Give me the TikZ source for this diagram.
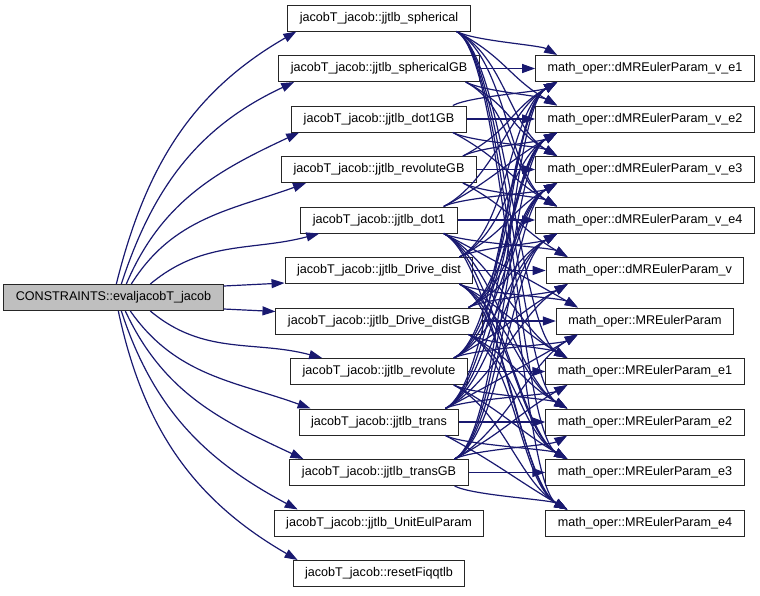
\documentclass[tikz,border=0pt]{standalone}
\usepackage{fontspec}
\setmainfont{Liberation Sans}
\usetikzlibrary{arrows.meta}

\definecolor{edgeblue}{HTML}{191970}
\definecolor{rootgray}{HTML}{BFBFBF}

\tikzset{
  fn/.style={draw=black!85, line width=1pt, fill=white, minimum height=26pt,
    inner xsep=12pt, inner ysep=0pt, font=\fontsize{12.6}{14}\selectfont},
  call/.style={draw=edgeblue, line width=1.2pt, -{Triangle[length=13pt,width=9pt]}}
}

\begin{document}
\begin{tikzpicture}[x=1pt,y=1pt]
\useasboundingbox (0,0) rectangle (760,-595);

% caller
\node[fn, fill=rootgray] (root) at (113.5,-297.5) {CONSTRAINTS::evaljacobT\_jacob};

% jacobT_jacob functions, one per row
\foreach \txt [count=\i] in {jjtlb\_spherical, jjtlb\_sphericalGB, jjtlb\_dot1GB,
    jjtlb\_revoluteGB, jjtlb\_dot1, jjtlb\_Drive\_dist, jjtlb\_Drive\_distGB,
    jjtlb\_revolute, jjtlb\_trans, jjtlb\_transGB, jjtlb\_UnitEulParam, resetFiqqtlb}
  \node[fn] (jj\i) at (379,{-18-50.5*(\i-1)}) {jacobT\_jacob::\txt};

% math_oper functions
\foreach \txt [count=\i] in {dMREulerParam\_v\_e1, dMREulerParam\_v\_e2,
    dMREulerParam\_v\_e3, dMREulerParam\_v\_e4, dMREulerParam\_v, MREulerParam,
    MREulerParam\_e1, MREulerParam\_e2, MREulerParam\_e3, MREulerParam\_e4}
  \node[fn] (mo\i) at (645,{-18-50.5*\i}) {math\_oper::\txt};

% caller -> jacobT_jacob
\foreach \i/\sx/\o/\ex/\inn in {1/113/76/9/210, 2/118/72/16/205, 3/123/67/8/205,
    4/128/58/25/200, 5/147/40/19/195}
  \draw[call] ([xshift=\sx pt]root.north west) to[out=\o,in=\inn] ([xshift=\ex pt]jj\i.south west);
\foreach \i/\sx/\o/\ex/\inn in {8/147/-40/32/165, 9/127/-55/12/160, 10/122/-65/14/155,
    11/118/-72/24/152, 12/115/-78/5/150}
  \draw[call] ([xshift=\sx pt]root.south west) to[out=\o,in=\inn] ([xshift=\ex pt]jj\i.north west);
\draw[call] ([yshift=-2pt]root.north east) -- ([yshift=1pt]jj6.south west);
\draw[call] ([yshift=2pt]root.south east) -- ([yshift=-4pt]jj7.north west);

% jacobT_jacob -> math_oper
\foreach \s/\tlist in {1/{1,2,3,4,7,8,9,10}, 2/{1,2,3,4}, 3/{1,2,3,4}, 4/{1,2,3,4,5},
    5/{1,2,3,4,5,6,7,8,9,10}, 6/{1,2,3,4,5,6,7,8,9,10}, 7/{1,2,3,4,5,6,7,8,9,10},
    8/{1,2,3,4,5,6,7,8,9,10}, 9/{1,2,3,4,5,6,7,8,9,10}, 10/{1,2,3,4,6,7,8,9,10}}
  \foreach \t in \tlist {
    \pgfmathtruncatemacro\dr{\t+1-\s}
    \pgfmathsetmacro\cl{ifthenelse(abs(\dr)==1,20,55)}
    \ifnum\dr=0
      \draw[call] (jj\s.east) -- (mo\t.west);
    \else\ifnum\dr>0
      \draw[call] ([xshift=-14pt]jj\s.south east) .. controls +(-28:\cl pt) and +(150:\cl pt) .. ([xshift=22pt]mo\t.north west);
    \else
      \draw[call] ([xshift=-14pt]jj\s.north east) .. controls +(28:\cl pt) and +(-150:\cl pt) .. ([xshift=22pt]mo\t.south west);
    \fi\fi
  }
\end{tikzpicture}
\end{document}
